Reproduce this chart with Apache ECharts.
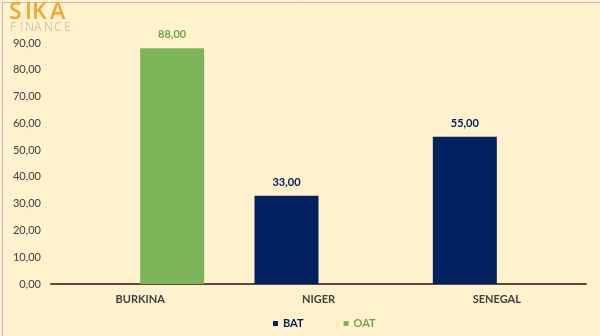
<!DOCTYPE html>
<html>
<head>
<meta charset="utf-8">
<script src="https://cdn.jsdelivr.net/npm/echarts@6/dist/echarts.min.js"></script>
<style>
html,body{margin:0;padding:0;background:#fff2cc;}
#c{width:600px;height:336px;}
</style>
</head>
<body>
<div id="c"></div>
<script>
var categories = ['BURKINA', 'NIGER', 'SENEGAL'];
var batValues = ['-', 33, 55];
var oatValues = [88, '-', '-'];
var seriesNames = ['BAT', 'OAT'];

var navy = '#002060';
var green = '#7db65a';
var greenText = '#6aa84f';
var font = 'Lato, "Open Sans", sans-serif';
function fmt(v) { return Number(v).toFixed(2).replace('.', ','); }

// logo letters (decoration)
var logoTop = [['S', 9], ['I', 25], ['K', 32], ['A', 50]];
var logoBottom = [['F', 10], ['I', 20], ['N', 25], ['A', 34], ['N', 44], ['C', 54], ['E', 64]];
var graphics = [
  {type: 'rect', left: 0, top: 0, shape: {x: 0.5, y: 0.5, width: 598, height: 334}, style: {fill: null, stroke: '#bfbfbf', lineWidth: 1}, silent: true}
];
logoTop.forEach(function (l) {
  graphics.push({type: 'text', x: l[1], y: 1, style: {text: l[0], fill: '#f2a531', fontSize: 23, fontWeight: 600, fontFamily: '"Open Sans", sans-serif'}});
});
logoBottom.forEach(function (l) {
  graphics.push({type: 'text', x: l[1], y: 22, style: {text: l[0], fill: '#d8c7a6', fontSize: 12, fontWeight: 'normal', fontFamily: '"Open Sans", sans-serif'}});
});

var chart = echarts.init(document.getElementById('c'), null, {renderer: 'canvas'});
chart.setOption({
  backgroundColor: '#fff2cc',
  animation: false,
  grid: {left: 51, right: 14, top: 43, bottom: 52, containLabel: false},
  xAxis: {
    type: 'category',
    data: categories,
    axisLine: {lineStyle: {color: '#584a3d', width: 2}},
    axisTick: {show: false},
    axisLabel: {color: '#404040', fontWeight: 'bold', fontSize: 11, fontFamily: font, margin: 10}
  },
  yAxis: {
    type: 'value',
    min: 0, max: 90, interval: 10,
    splitLine: {show: false},
    axisLine: {show: false},
    axisTick: {show: false},
    axisLabel: {color: '#404040', fontSize: 11, fontFamily: font, margin: 10, formatter: fmt}
  },
  legend: {
    left: 268, top: 313,
    icon: 'rect', itemWidth: 5, itemHeight: 5, itemGap: 40,
    textStyle: {fontSize: 11, fontWeight: 'bold', fontFamily: font},
    data: [
      {name: 'BAT', textStyle: {color: navy}},
      {name: 'OAT', textStyle: {color: greenText}}
    ]
  },
  series: [
    {
      name: seriesNames[0], type: 'bar', data: batValues,
      barWidth: 64, barGap: '0%',
      itemStyle: {color: navy},
      label: {show: true, position: 'top', distance: 8, color: navy, fontWeight: 'bold', fontSize: 11, fontFamily: font, formatter: function(p){return fmt(p.value);}}
    },
    {
      name: seriesNames[1], type: 'bar', data: oatValues,
      barWidth: 64, barGap: '0%',
      itemStyle: {color: green},
      label: {show: true, position: 'top', distance: 8, color: greenText, fontWeight: 'bold', fontSize: 11, fontFamily: font, formatter: function(p){return fmt(p.value);}}
    }
  ],
  graphic: graphics
});
</script>
</body>
</html>
